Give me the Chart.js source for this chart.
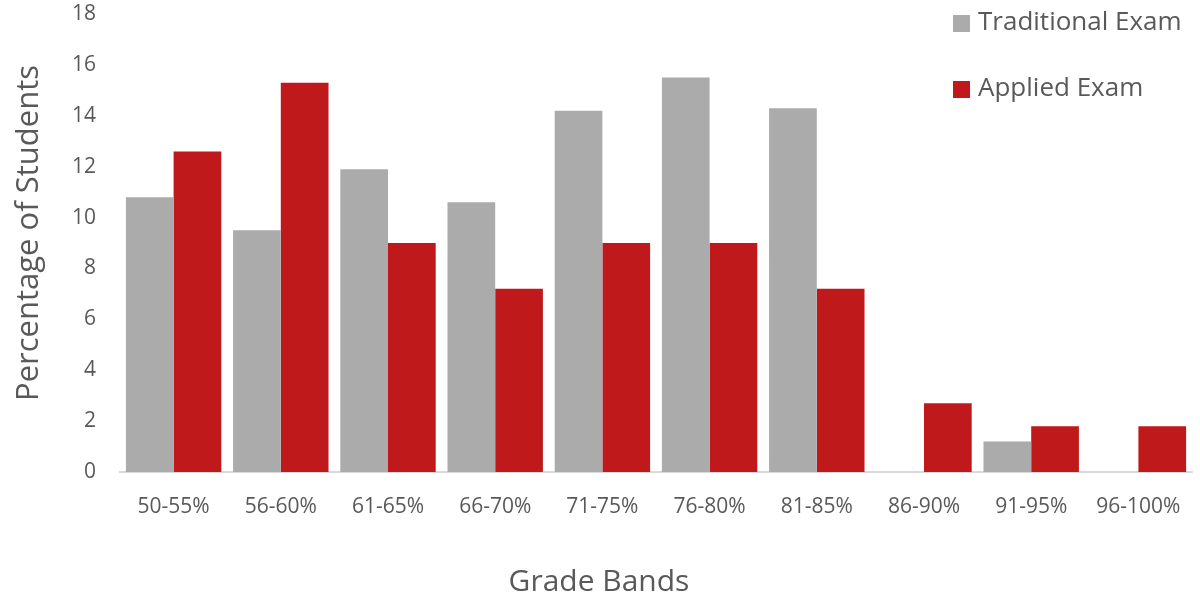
<!DOCTYPE html>
<html>
<head>
<meta charset="utf-8">
<script src="https://cdn.jsdelivr.net/npm/chart.js@4/dist/chart.umd.min.js"></script>
<style>
  html, body { margin: 0; padding: 0; background: #ffffff; }
  #wrap { width: 1200px; height: 601px; position: relative; }
</style>
</head>
<body>
<div id="wrap"><canvas id="c"></canvas></div>
<script>
const categories = ['50-55%', '56-60%', '61-65%', '66-70%', '71-75%', '76-80%', '81-85%', '86-90%', '91-95%', '96-100%'];
const traditionalExam = [10.8, 9.5, 11.9, 10.6, 14.2, 15.5, 14.3, 0, 1.2, 0];
const appliedExam = [12.6, 15.3, 9.0, 7.2, 9.0, 9.0, 7.2, 2.7, 1.8, 1.8];
const seriesNames = ['Traditional Exam', 'Applied Exam'];
const seriesColors = ['#ABABAB', '#C0191C'];
const yTicks = [0, 2, 4, 6, 8, 10, 12, 14, 16, 18];
const xTitle = 'Grade Bands';
const yTitle = 'Percentage of Students';

const FONT = '"Open Sans", "Noto Sans", sans-serif';
const TEXT = '#595959';

const customLegend = {
  id: 'customLegend',
  afterDraw(chart) {
    const ctx = chart.ctx;
    ctx.save();
    ctx.font = '26px ' + FONT;
    ctx.textBaseline = 'middle';
    ctx.textAlign = 'left';
    chart.data.datasets.forEach((ds, i) => {
      const y = 23 + i * 66;
      ctx.fillStyle = ds.backgroundColor;
      ctx.fillRect(953, y - 8, 17, 17);
      ctx.fillStyle = TEXT;
      ctx.fillText(ds.label, 978, y);
    });
    // x-axis title, centred on the page as in the reference
    ctx.font = '30px ' + FONT;
    ctx.textAlign = 'center';
    ctx.fillText(xTitle, 599, 582);
    // y-axis title
    ctx.translate(29, 233);
    ctx.rotate(-Math.PI / 2);
    ctx.font = '31px ' + FONT;
    ctx.fillText(yTitle, 0, 0);
    ctx.restore();
  }
};

new Chart(document.getElementById('c'), {
  type: 'bar',
  data: {
    labels: categories,
    datasets: [
      { label: seriesNames[0], data: traditionalExam, backgroundColor: seriesColors[0] },
      { label: seriesNames[1], data: appliedExam, backgroundColor: seriesColors[1] }
    ]
  },
  options: {
    responsive: true,
    maintainAspectRatio: false,
    animation: false,
    layout: { padding: { top: 14, right: 8, left: 0, bottom: 0 } },
    plugins: { legend: { display: false }, tooltip: { enabled: false } },
    datasets: { bar: { categoryPercentage: 0.89, barPercentage: 1.0 } },
    scales: {
      x: {
        grid: { display: false, drawTicks: false },
        border: { display: true, color: '#D9D9D9', width: 2 },
        ticks: { color: TEXT, font: { family: FONT, size: 21 }, padding: 22, maxRotation: 0 },
        title: { display: false },
        afterFit(scale) { scale.height = 129; scale.paddingLeft = 0; scale.paddingRight = 0; }
      },
      y: {
        min: 0, max: 18,
        afterBuildTicks(scale) { scale.ticks = yTicks.map(v => ({ value: v })); },
        grid: { display: false, drawTicks: false },
        border: { display: false },
        ticks: { color: TEXT, font: { family: FONT, size: 21 }, padding: 24 },
        title: { display: false },
        afterFit(scale) { scale.width = 120; scale.paddingTop = 0; scale.paddingBottom = 0; }
      }
    }
  },
  plugins: [customLegend]
});
</script>
</body>
</html>
